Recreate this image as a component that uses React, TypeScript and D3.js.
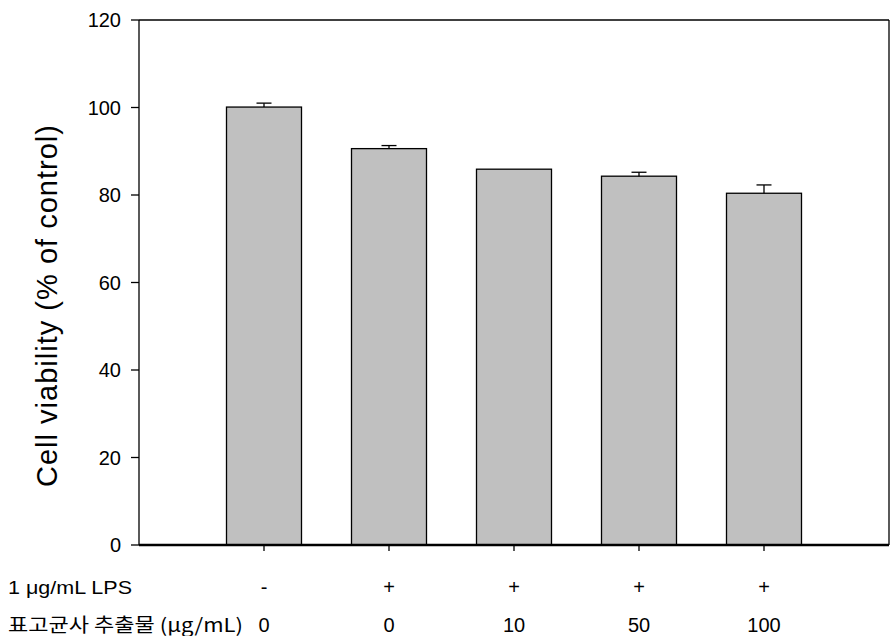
import React from 'react'
import * as d3 from 'd3'

// bar values
const lpsLabels = ['-', '+', '+', '+', '+']
const extractDoses = ['0', '0', '10', '50', '100']
const viability = [100.1, 90.6, 85.9, 84.3, 80.4]
const errors = [0.9, 0.7, 0, 0.9, 1.9]
const yTicks = [0, 20, 40, 60, 80, 100, 120]

const App = () => {
  const w = 891
  const h = 636
  const left = 139
  const right = 889
  const top = 20
  const bottom = 545

  const xScale = d3.scaleLinear().domain([0, 6]).range([left, right])
  const yScale = d3.scaleLinear().domain([0, 120]).range([bottom, top])
  const barW = 75
  const capW = 15
  const font = '"Liberation Sans", Arial, sans-serif'

  return (
    <svg width={w} height={h} style={{ position: 'absolute', left: 0, top: 0, background: '#fff' }}>
      {/* bars */}
      {viability.map((v, i) => (
        <rect
          key={'b' + i}
          x={xScale(i + 1) - barW / 2}
          y={yScale(v)}
          width={barW}
          height={yScale(0) - yScale(v)}
          fill="#c0c0c0"
          stroke="#000"
          strokeWidth={1.3}
        />
      ))}
      {/* error bars (upper only) */}
      {viability.map((v, i) =>
        errors[i] > 0 ? (
          <g key={'e' + i} stroke="#000" strokeWidth={1.3}>
            <line x1={xScale(i + 1)} x2={xScale(i + 1)} y1={yScale(v)} y2={yScale(v + errors[i])} />
            <line
              x1={xScale(i + 1) - capW / 2}
              x2={xScale(i + 1) + capW / 2}
              y1={yScale(v + errors[i])}
              y2={yScale(v + errors[i])}
            />
          </g>
        ) : null
      )}

      {/* frame */}
      <line x1={left} x2={left} y1={top} y2={bottom} stroke="#000" strokeWidth={1.3} />
      <line x1={left} x2={right} y1={top} y2={top} stroke="#000" strokeWidth={1.3} />
      <line x1={right} x2={right} y1={top} y2={bottom} stroke="#000" strokeWidth={1.3} />
      <line x1={left} x2={right} y1={bottom} y2={bottom} stroke="#000" strokeWidth={2.5} />

      {/* y axis */}
      {yTicks.map(t => (
        <g key={'y' + t}>
          <line x1={left - 8} x2={left} y1={yScale(t)} y2={yScale(t)} stroke="#000" strokeWidth={1.3} />
          <text
            x={left - 18}
            y={yScale(t)}
            dy="0.36em"
            textAnchor="end"
            fontFamily={font}
            fontSize={20}
          >
            {t}
          </text>
        </g>
      ))}
      <text
        transform={`translate(57,306) rotate(-90)`}
        textAnchor="middle"
        fontFamily={font}
        fontSize={29}
        textLength={362}
        lengthAdjust="spacing"
      >
        Cell viability (% of control)
      </text>

      {/* x ticks */}
      {viability.map((_, i) => (
        <line
          key={'xt' + i}
          x1={xScale(i + 1)}
          x2={xScale(i + 1)}
          y1={bottom}
          y2={bottom + 6}
          stroke="#000"
          strokeWidth={1.3}
        />
      ))}

      {/* treatment rows */}
      <text x={8} y={594} fontFamily={font} fontSize={19} textLength={124} lengthAdjust="spacingAndGlyphs">
        1 μg/mL LPS
      </text>
      <text
        x={8}
        y={632}
        fontFamily={'"Noto Sans CJK KR", ' + font}
        fontSize={19}
        textLength={235}
        lengthAdjust="spacingAndGlyphs"
      >
        표고균사 추출물 (μg/mL)
      </text>
      {lpsLabels.map((s, i) => (
        <text key={'l' + i} x={xScale(i + 1)} y={594} textAnchor="middle" fontFamily={font} fontSize={20}>
          {s}
        </text>
      ))}
      {extractDoses.map((s, i) => (
        <text key={'d' + i} x={xScale(i + 1)} y={632} textAnchor="middle" fontFamily={font} fontSize={20}>
          {s}
        </text>
      ))}
    </svg>
  )
}

export default App
